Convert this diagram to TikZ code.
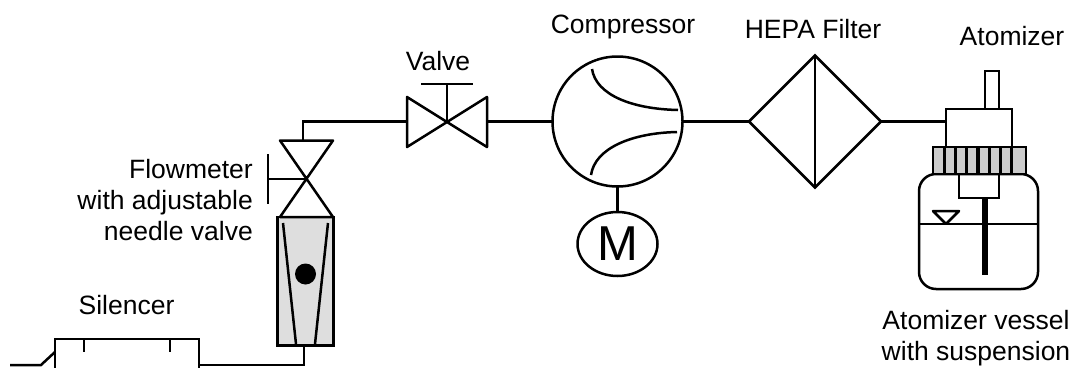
\documentclass[tikz,border=0pt]{standalone}
\usepackage{fontspec}
\setmainfont{Liberation Sans}
\usetikzlibrary{shapes.geometric}
\tikzset{
  x=1pt,y=-1pt,
  pipe/.style={line width=2.5pt,line join=miter},
  part/.style={draw,line width=2.5pt,outer sep=0pt,inner sep=0pt},
  lbl/.style={font=\fontsize{26.5}{31}\selectfont,inner sep=0pt,align=center},
  rlbl/.style={lbl,align=right,anchor=east},
  glass/.style={fill=black!13},
  rib/.style={fill=black!20},
}
\begin{document}
\begin{tikzpicture}
\useasboundingbox (0,0) rectangle (1073,367);
\clip (0,0) rectangle (1073,367);
% labels
\node[lbl] (lcomp) at (623,27) {Compressor};
\node[lbl] (lhepa) at (813,29) {HEPA Filter};
\node[lbl] (lato) at (1012,36) {Atomizer};
\node[lbl] (lvalve) at (438,61) {Valve};
\node[rlbl] (lflow) at (253,200) {Flowmeter\\with adjustable\\needle valve};
\node[lbl] (lsil) at (126.5,305) {Silencer};
\node[lbl] (lves) at (976,338) {Atomizer vessel\\with suspension};
% flowmeter
\node[part,glass,minimum width=56pt,minimum height=128.5pt] (fm) at (305.5,281.25) {};
\coordinate (fmc) at (306,179);
\coordinate (fmt) at (303,140.5);
\draw[pipe,line join=round] (280,140.5) -- (333,140.5) -- (280,217) -- (333,217) -- cycle;
\draw[pipe] (268,154) -- (268,204);
\draw[pipe] (268,179) -- (fmc);
\draw[pipe] (283,223) -- (296,344);
\draw[pipe] (328,223) -- (315,344);
\node[circle,fill=black,minimum size=21pt,inner sep=0pt] (ball) at (305.5,274) {};
% valve
\coordinate (vc) at (447,121.5);
\coordinate (vl) at (407,121.5);
\coordinate (vr) at (487,121.5);
\draw[pipe,line join=round] (407,97) -- (487,147) -- (487,97) -- (407,147) -- cycle;
\draw[pipe] (vc) -- (447,84);
\draw[pipe] (421,84) -- (473,84);
\draw[pipe] (fmt) -- (303,121.5) -- (vl);
% compressor
\node[part,circle,minimum size=130pt] (comp) at (617.5,121.5) {};
\draw[pipe] (vr) -- (comp.west);
\draw[pipe] (592,69) .. controls (596,95) and (632,109) .. (678,110);
\draw[pipe] (591,175) .. controls (595,148) and (632,133) .. (677,132);
\node[part,ellipse,minimum width=80pt,minimum height=64pt,font=\fontsize{49}{49}\selectfont] (mot) at (617.5,244) {\raisebox{-1.5pt}{M}};
\draw[pipe] (comp.south) -- (mot.north);
% filter
\node[part,diamond,minimum width=132pt,minimum height=132pt] (hepa) at (815,121.5) {};
\draw[pipe] (hepa.north) -- (hepa.south);
\draw[pipe] (comp.east) -- (hepa.west);
% atomizer
\draw[pipe,rounded corners=17pt] (919,174) rectangle (1038,289);
\node[part,minimum width=14pt,minimum height=38pt] (noz) at (992,90) {};
\node[part,minimum width=66pt,minimum height=38pt] (ato) at (979,128) {};
\draw[pipe] (hepa.east) -- (ato.west |- hepa.east);
\node[part,rib,minimum width=93pt,minimum height=27pt] (cap) at (979.5,160.5) {};
\foreach \k in {1,...,7}{\draw[line width=3.2pt] ({933+\k*11.25},147) -- ({933+\k*11.25},174);}
\node[part,minimum width=40pt,minimum height=24pt] (ins) at (979,186) {};
\coordinate (tb) at (985,275);
\draw[line width=5.5pt] (985,198) -- (tb);
\draw[pipe] (919,224) -- (1038,224);
\draw[pipe,line join=round] (933,211) -- (959,211) -- (946,224) -- cycle;
% silencer
\coordinate (in) at (10,365);
\coordinate (sj) at (41,365);
\draw[pipe] (in) -- (sj) -- (55,352);
\draw[pipe] (55,375) -- (55,339) -- (199,339) -- (199,375);
\draw[pipe] (84,339) -- (84,352);
\draw[pipe] (170,339) -- (170,352);
\draw[pipe] (199,365) -- (304,365) -- (304,345.5);
\end{tikzpicture}
\end{document}
